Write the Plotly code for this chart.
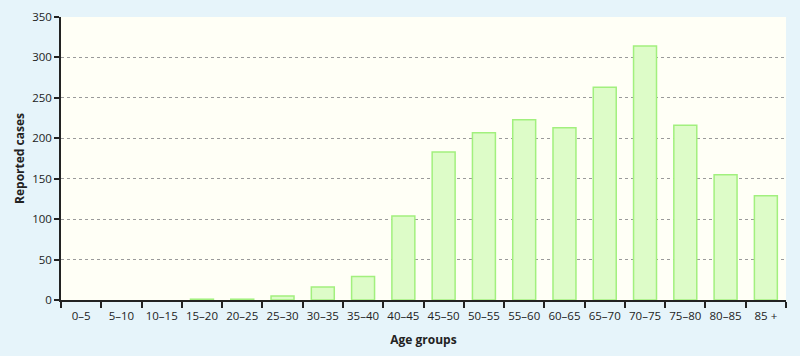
import plotly.graph_objects as go

age_groups = ["0–5", "5–10", "10–15", "15–20", "20–25", "25–30", "30–35", "35–40",
              "40–45", "45–50", "50–55", "55–60", "60–65", "65–70", "70–75", "75–80",
              "80–85", "85 +"]
cases = [0, 0, 0, 1, 1, 5, 16, 29, 104, 183, 207, 223, 213, 263, 314, 216, 155, 129]
y_ticks = [0, 50, 100, 150, 200, 250, 300, 350]

fig = go.Figure(go.Bar(
    x=age_groups, y=cases,
    marker=dict(color="#ddfcc8",
                line=dict(color="#a2f07e", width=[1.5 if v > 0 else 0 for v in cases])),
    width=0.57,
))

font_family = "Open Sans, Lato, sans-serif"
fig.update_layout(
    width=800, height=356,
    margin=dict(l=61, r=14, t=17, b=56),
    paper_bgcolor="#e6f4fa",
    plot_bgcolor="#fffff6",
    showlegend=False,
    font=dict(family=font_family, size=11, color="#222"),
)
fig.update_xaxes(
    type="category",
    tickson="boundaries",
    tickangle=0,
    ticks="outside", ticklen=6, tickwidth=1.5, tickcolor="#222",
    ticklabelstandoff=4,
    showline=True, linecolor="#222", linewidth=1.5,
    showgrid=False, automargin=False,
    tickfont=dict(size=11.5),
    title=dict(text="<b>Age groups</b>", font=dict(size=12), standoff=14),
)
fig.update_yaxes(
    range=[0, 350],
    tickvals=y_ticks,
    ticks="outside", ticklen=5, tickwidth=1.5, tickcolor="#222",
    showline=True, linecolor="#222", linewidth=1.5,
    showgrid=True, gridcolor="#9a9a9a", griddash="dot", gridwidth=1,
    zeroline=False, automargin=False,
    tickfont=dict(size=11.5),
    title=dict(text="<b>Reported cases</b>", font=dict(size=12), standoff=5),
)
fig.write_html("out.html",
               config={"displayModeBar": False},
               post_script="document.body.style.margin='0';document.body.style.overflow='hidden';")
